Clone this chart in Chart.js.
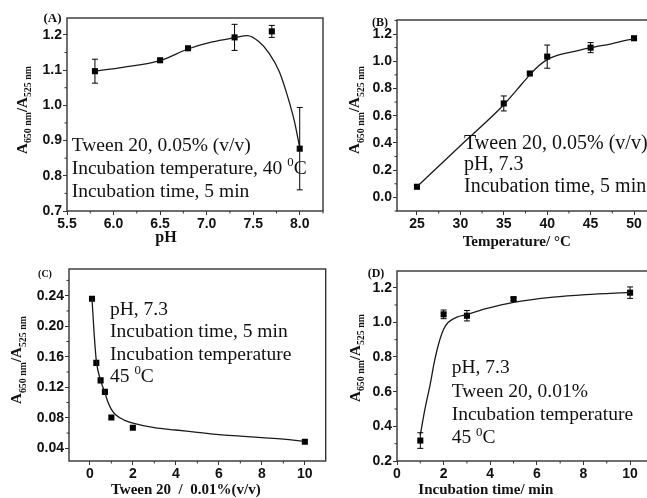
<!DOCTYPE html>
<html>
<head>
<meta charset="utf-8">
<script src="https://cdn.jsdelivr.net/npm/chart.js@4.4.1/dist/chart.umd.min.js"></script>
<style>
  html, body { margin: 0; padding: 0; background: #fff; width: 647px; height: 498px; overflow: hidden; }
  canvas { position: absolute; }
</style>
</head>
<body>
<canvas id="chart-a" width="330" height="258" style="left:0;top:0"></canvas>
<canvas id="chart-b" width="330" height="258" style="left:330px;top:0"></canvas>
<canvas id="chart-c" width="330" height="248" style="left:0;top:250px"></canvas>
<canvas id="chart-d" width="330" height="248" style="left:330px;top:250px"></canvas>
<script>
// (A) pH
const phX = [5.8, 6.5, 6.8, 7.3, 7.7, 8.0];
const phY = [1.097, 1.128, 1.162, 1.193, 1.21, 0.877];
const phErr = [0.034, 0.004, 0.004, 0.037, 0.017, 0.117];
const phFitX = [5.8, 6.1, 6.5, 6.8, 7.06, 7.3, 7.44, 7.56, 7.67, 7.78, 7.86, 7.94, 8.0];
const phFitY = [1.097, 1.108, 1.127, 1.160, 1.180, 1.192, 1.198, 1.181, 1.148, 1.096, 1.034, 0.958, 0.880];
const phTicksX = [5.5, 6.0, 6.5, 7.0, 7.5, 8.0];
const phTicksY = [0.7, 0.8, 0.9, 1.0, 1.1, 1.2];

// (B) temperature
const tempX = [25, 35, 38, 40, 45, 50];
const tempY = [0.078, 0.69, 0.91, 1.034, 1.10, 1.169];
const tempErr = [0, 0.055, 0.01, 0.085, 0.037, 0];
const tempFitX = [25, 30, 35, 36.5, 38, 39, 40, 41, 43, 45, 47.5, 50];
const tempFitY = [0.078, 0.38, 0.68, 0.79, 0.90, 0.965, 1.012, 1.04, 1.07, 1.10, 1.13, 1.167];
const tempTicksX = [25, 30, 35, 40, 45, 50];
const tempTicksY = [0.0, 0.2, 0.4, 0.6, 0.8, 1.0, 1.2];

// (C) Tween 20
const tweenX = [0.1, 0.3, 0.5, 0.7, 1.0, 2.0, 10];
const tweenY = [0.236, 0.152, 0.129, 0.114, 0.0805, 0.067, 0.0486];
const tweenErr = [0, 0, 0, 0, 0, 0, 0];
const tweenFitX = [0.1, 0.2, 0.3, 0.5, 0.7, 0.85, 1.0, 1.2, 1.6, 2.0, 3, 4, 5, 6, 7, 8, 9, 10];
const tweenFitY = [0.236, 0.19, 0.155, 0.129, 0.113, 0.100, 0.091, 0.084, 0.077, 0.073, 0.067, 0.064, 0.061, 0.058, 0.056, 0.054, 0.052, 0.049];
const tweenTicksX = [0, 2, 4, 6, 8, 10];
const tweenTicksY = [0.04, 0.08, 0.12, 0.16, 0.20, 0.24];

// (D) incubation time
const timeX = [1, 2, 3, 5, 10];
const timeY = [0.318, 1.046, 1.038, 1.134, 1.171];
const timeErr = [0.045, 0.025, 0.03, 0.008, 0.033];
const timeFitX = [1.0, 1.2, 1.43, 1.6, 1.79, 2.0, 2.2, 2.57, 3.0, 3.86, 5.0, 6.7, 8.1, 10];
const timeFitY = [0.35, 0.50, 0.647, 0.77, 0.878, 0.96, 1.0, 1.03, 1.045, 1.08, 1.115, 1.145, 1.16, 1.173];
const timeTicksX = [0, 2, 4, 6, 8, 10];
const timeTicksY = [0.2, 0.4, 0.6, 0.8, 1.0, 1.2];

const SERIF = '"Liberation Serif", "Times New Roman", serif';
const SANS = '"Liberation Sans", Arial, sans-serif';
const INK = '#111';
const FRAME = '#333';

const yTitle = [
  { t: 'A' }, { t: '650 nm', sub: true }, { t: '/A' }, { t: '525 nm', sub: true },
];

function toXY(xs, ys) {
  return xs.map((x, i) => ({ x, y: ys[i] }));
}

function drawRich(ctx, parts, x, y, size, weight, align) {
  const fontFor = (p) => `${weight} ${p.sub || p.sup ? size * 0.66 : size}px ${SERIF}`;
  const widths = parts.map((p) => { ctx.font = fontFor(p); return ctx.measureText(p.t).width; });
  const total = widths.reduce((a, b) => a + b, 0);
  let cx = align === 'center' ? x - total / 2 : x;
  ctx.textAlign = 'left';
  ctx.textBaseline = 'alphabetic';
  parts.forEach((p, i) => {
    ctx.font = fontFor(p);
    const dy = p.sub ? size * 0.3 : p.sup ? -size * 0.4 : 0;
    ctx.fillText(p.t, cx, y + dy);
    cx += widths[i];
  });
}

const panelDecor = {
  id: 'panelDecor',
  afterDatasetsDraw(chart, args, opts) {
    const { ctx } = chart;
    const xs = chart.scales.x, ys = chart.scales.y;
    chart.data.datasets.forEach((ds) => {
      if (!ds.errors) return;
      ctx.save();
      ctx.strokeStyle = '#000';
      ctx.lineWidth = 1;
      ds.data.forEach((pt, i) => {
        const e = ds.errors[i];
        if (!e) return;
        const px = xs.getPixelForValue(pt.x);
        const top = ys.getPixelForValue(pt.y + e);
        const bot = ys.getPixelForValue(pt.y - e);
        ctx.beginPath();
        ctx.moveTo(px, top); ctx.lineTo(px, bot);
        ctx.moveTo(px - 3, top); ctx.lineTo(px + 3, top);
        ctx.moveTo(px - 3, bot); ctx.lineTo(px + 3, bot);
        ctx.stroke();
      });
      ctx.restore();
    });
  },
  afterDraw(chart, args, opts) {
    const { ctx, chartArea: a } = chart;
    const xs = chart.scales.x, ys = chart.scales.y;
    ctx.save();
    // frame
    ctx.strokeStyle = FRAME;
    ctx.lineWidth = 1.4;
    ctx.strokeRect(a.left, a.top, a.right - a.left, a.bottom - a.top);

    // minor ticks halfway between the major ones
    ctx.lineWidth = 1;
    ctx.beginPath();
    [xs, ys].forEach((s) => {
      const t = s.ticks.map((k) => k.value);
      const step = t[1] - t[0];
      for (let v = t[0] - step / 2; v <= s.max + 1e-9; v += step) {
        if (v < s.min - 1e-9) continue;
        const p = s.getPixelForValue(v);
        if (s === xs) { ctx.moveTo(p, a.bottom); ctx.lineTo(p, a.bottom + 2.5); }
        else { ctx.moveTo(a.left, p); ctx.lineTo(a.left - 2.5, p); }
      }
    });
    ctx.stroke();

    ctx.fillStyle = INK;
    // panel label
    ctx.font = `bold ${opts.tag.size}px ${SERIF}`;
    ctx.textAlign = 'center';
    ctx.textBaseline = 'middle';
    ctx.fillText(opts.tag.text, opts.tag.x, opts.tag.y);

    // y title (rotated, with subscripts)
    ctx.save();
    ctx.translate(opts.yTitle.x, opts.yTitle.y);
    ctx.rotate(-Math.PI / 2);
    drawRich(ctx, yTitle, 0, 0, 15, 'bold', 'center');
    ctx.restore();

    // x title
    drawRich(ctx, [{ t: opts.xTitle.text }], opts.xTitle.x, opts.xTitle.y, opts.xTitle.size, 'bold', 'center');

    // annotation lines
    opts.notes.lines.forEach((parts, i) => {
      drawRich(ctx, parts, opts.notes.x, opts.notes.y[i], opts.notes.size, 'normal', 'left');
    });
    ctx.restore();
  },
};

function axis(min, max, ticks, decimals, fit) {
  return {
    type: 'linear',
    min, max,
    border: { display: false },
    grid: { drawOnChartArea: false, drawTicks: true, tickLength: 4, color: FRAME, lineWidth: 1 },
    ticks: {
      color: INK,
      padding: 1,
      autoSkip: false,
      maxRotation: 0,
      font: { family: SANS, weight: 'bold', size: 14 },
      callback: (v) => Number(v).toFixed(decimals),
    },
    afterBuildTicks: (s) => { s.ticks = ticks.map((v) => ({ value: v })); },
    afterFit: fit,
  };
}

function makePanel(id, p) {
  return new Chart(document.getElementById(id), {
    type: 'scatter',
    data: {
      datasets: [
        {
          data: toXY(p.fitX, p.fitY),
          showLine: true,
          borderColor: '#1a1a1a',
          borderWidth: 1.3,
          pointRadius: 0,
          cubicInterpolationMode: 'monotone',
          fill: false,
        },
        {
          data: toXY(p.x, p.y),
          errors: p.err,
          pointStyle: 'rect',
          pointRadius: 4.3,
          backgroundColor: '#000',
          borderColor: '#000',
          borderWidth: 0,
        },
      ],
    },
    options: {
      responsive: false,
      devicePixelRatio: 1,
      animation: false,
      events: [],
      layout: { padding: p.padding },
      plugins: {
        legend: { display: false },
        tooltip: { enabled: false },
        panelDecor: p.decor,
      },
      scales: {
        x: axis(p.xRange[0], p.xRange[1], p.xTicks, p.xDec, (s) => { s.height = p.xH; }),
        y: axis(p.yRange[0], p.yRange[1], p.yTicks, p.yDec, (s) => { s.width = p.yW; }),
      },
    },
    plugins: [panelDecor],
  });
}

makePanel('chart-a', {
  x: phX, y: phY, err: phErr, fitX: phFitX, fitY: phFitY,
  xTicks: phTicksX, yTicks: phTicksY, xDec: 1, yDec: 1,
  xRange: [5.5, 8.25], yRange: [0.7, 1.248],
  padding: { left: 0, top: 18, right: 7, bottom: 0 }, yW: 67, xH: 47,
  decor: {
    tag: { text: '(A)', x: 52.5, y: 19, size: 13 },
    yTitle: { x: 26.5, y: 110 },
    xTitle: { text: 'pH', x: 166, y: 242, size: 16 },
    notes: {
      x: 71.7, y: [150.7, 174, 196.7], size: 19.5,
      lines: [
        [{ t: 'Tween 20, 0.05% (v/v)' }],
        [{ t: 'Incubation temperature, 40 ' }, { t: '0', sup: true }, { t: 'C' }],
        [{ t: 'Incubation time, 5 min' }],
      ],
    },
  },
});

makePanel('chart-b', {
  x: tempX, y: tempY, err: tempErr, fitX: tempFitX, fitY: tempFitY,
  xTicks: tempTicksX, yTicks: tempTicksY, xDec: 0, yDec: 1,
  xRange: [22.7, 52.07], yRange: [-0.1, 1.303],
  padding: { left: 0, top: 20, right: 8, bottom: 0 }, yW: 67, xH: 47,
  decor: {
    tag: { text: '(B)', x: 50, y: 22.5, size: 12 },
    yTitle: { x: 29, y: 110 },
    xTitle: { text: 'Temperature/ °C', x: 186.7, y: 246, size: 15 },
    notes: {
      x: 134, y: [148.5, 170, 191.5], size: 20,
      lines: [
        [{ t: 'Tween 20, 0.05% (v/v)' }],
        [{ t: 'pH, 7.3' }],
        [{ t: 'Incubation time, 5 min' }],
      ],
    },
  },
});

makePanel('chart-c', {
  x: tweenX, y: tweenY, err: tweenErr, fitX: tweenFitX, fitY: tweenFitY,
  xTicks: tweenTicksX, yTicks: tweenTicksY, xDec: 0, yDec: 2,
  xRange: [-0.97, 10.97], yRange: [0.0234, 0.275],
  padding: { left: 0, top: 19, right: 3, bottom: 0 }, yW: 69, xH: 37,
  decor: {
    tag: { text: '(C)', x: 45, y: 24.5, size: 10 },
    yTitle: { x: 21, y: 110 },
    xTitle: { text: 'Tween 20  /  0.01%(v/v)', x: 185.8, y: 244, size: 15 },
    notes: {
      x: 110, y: [65, 87.3, 110, 131.7], size: 19.5,
      lines: [
        [{ t: 'pH, 7.3' }],
        [{ t: 'Incubation time, 5 min' }],
        [{ t: 'Incubation temperature' }],
        [{ t: '45 ' }, { t: '0', sup: true }, { t: 'C' }],
      ],
    },
  },
});

makePanel('chart-d', {
  x: timeX, y: timeY, err: timeErr, fitX: timeFitX, fitY: timeFitY,
  xTicks: timeTicksX, yTicks: timeTicksY, xDec: 0, yDec: 1,
  xRange: [0, 10.94], yRange: [0.2, 1.296],
  padding: { left: 0, top: 21, right: 8, bottom: 0 }, yW: 67, xH: 37,
  decor: {
    tag: { text: '(D)', x: 46, y: 23.5, size: 12 },
    yTitle: { x: 29.5, y: 108 },
    xTitle: { text: 'Incubation time/ min', x: 155.8, y: 244, size: 15 },
    notes: {
      x: 121.7, y: [123.3, 146.7, 170, 193.3], size: 19.5,
      lines: [
        [{ t: 'pH, 7.3' }],
        [{ t: 'Tween 20, 0.01%' }],
        [{ t: 'Incubation temperature' }],
        [{ t: '45 ' }, { t: '0', sup: true }, { t: 'C' }],
      ],
    },
  },
});
</script>
</body>
</html>
